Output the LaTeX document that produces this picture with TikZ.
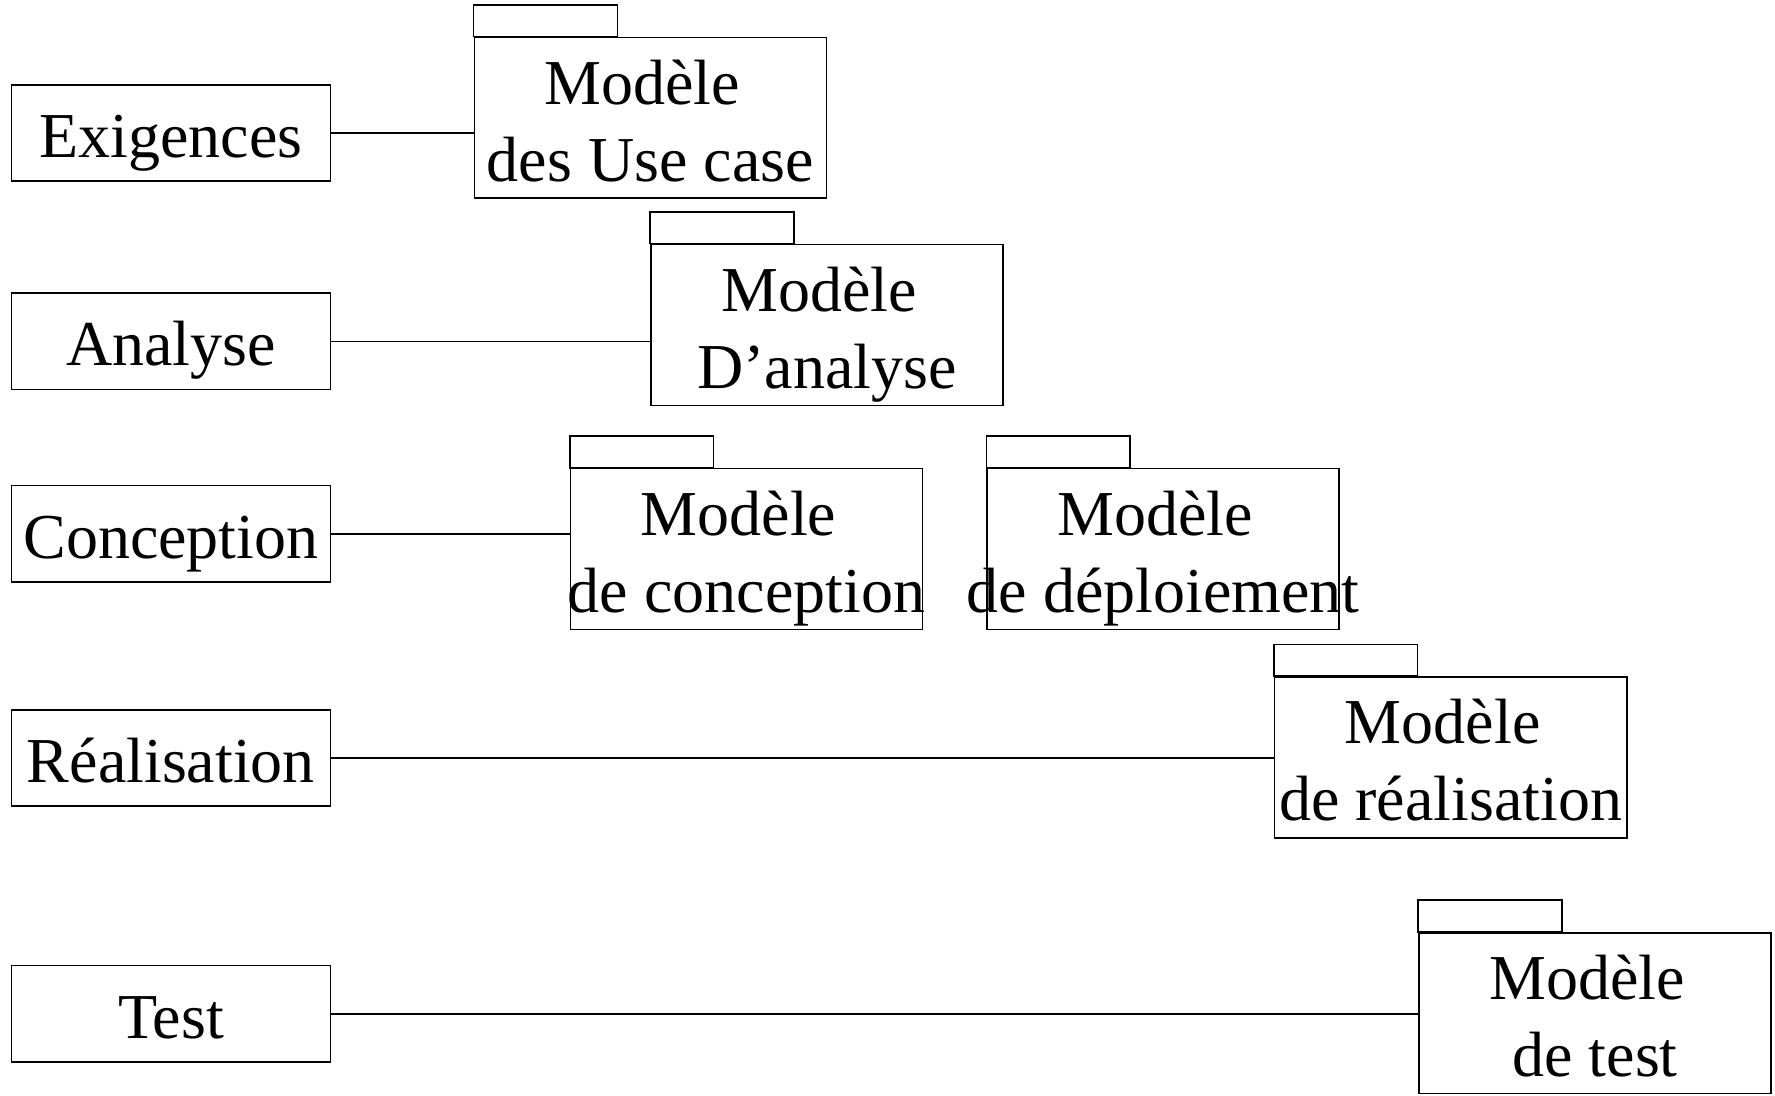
\documentclass[tikz,border=0pt]{standalone}
\usepackage{fontspec}
\setmainfont{Liberation Serif}
\begin{document}
\begin{tikzpicture}[x=0.566pt,y=-0.566pt,
  every node/.style={font=\fontsize{32}{38.5}\selectfont},
  phase/.style={draw,line width=0.8pt,minimum width=159.6pt,minimum height=48.1pt,
    inner sep=0pt,anchor=center,text height=24.4pt,text depth=0pt},
  pkg/.style={draw,line width=0.8pt,minimum width=176pt,minimum height=80.4pt,inner sep=0pt,anchor=center},
  ptext/.style={inner sep=0pt,anchor=base},
  link/.style={line width=0.8pt}]
\useasboundingbox (0,0) rectangle (1568,968);

% phases of the process
\node[phase] (ex) at (151,117.5) {Exigences};
\node[phase] (an) at (151,301.5) {Analyse};
\node[phase] (co) at (151,471.5) {Conception};
\node[phase] (re) at (151,669.5) {Réalisation};
\node[phase] (te) at (151,895.5) {Test};

% model packages: body, tab and two lines of title
\foreach \p/\cx/\cy/\second in {uc/574.5/104/des Use case,
                                am/730.5/287/D’analyse,
                                cm/659.5/485/de conception,
                                dm/1027.5/485/de déploiement,
                                rm/1281.5/669/de réalisation,
                                tm/1409/895/de test}{
  \node[pkg] (\p) at (\cx,\cy) {};
  \draw[line width=0.8pt] (\p.north west) rectangle ++(127,-28);
  \node[ptext] (\p-a) at ([xshift=-4pt,yshift=6.8pt]\p.center) {Modèle};
  \node[ptext] (\p-b) at ([yshift=-31.7pt]\p.center) {\second};
}

% links from phase to model
\draw[link] (ex.east) -- (ex.east -| uc.west);
\draw[link] (an.east) -- (an.east -| am.west);
\draw[link] (co.east) -- (co.east -| cm.west);
\draw[link] (re.east) -- (re.east -| rm.west);
\draw[link] (te.east) -- (te.east -| tm.west);
\end{tikzpicture}
\end{document}
